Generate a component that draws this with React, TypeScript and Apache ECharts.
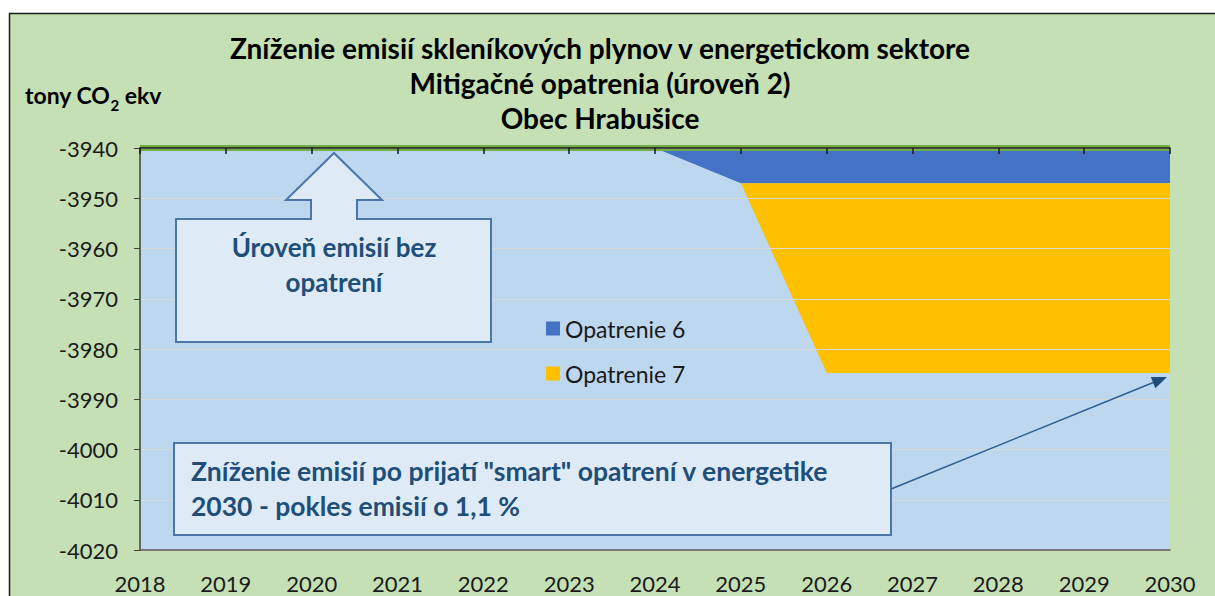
import React, { useEffect, useRef } from "react";
import * as echarts from "echarts";

const years = ["2018", "2019", "2020", "2021", "2022", "2023", "2024", "2025", "2026", "2027", "2028", "2029", "2030"];
const baseline = [-3940, -3940, -3940, -3940, -3940, -3940, -3940, -3940, -3940, -3940, -3940, -3940, -3940];
const opatrenie6 = [0, 0, 0, 0, 0, 0, 0, -7, -7, -7, -7, -7, -7];
const opatrenie7 = [0, 0, 0, 0, 0, 0, 0, 0, -37.8, -37.8, -37.8, -37.8, -37.8];
const titleLines = [
  "Zníženie emisií skleníkových plynov v energetickom sektore",
  "Mitigačné opatrenia (úroveň 2)",
  "Obec Hrabušice",
];
const yMin = -4020;
const yMax = -3940;
const yStep = 10;

const FONT = "Lato, 'Noto Sans', sans-serif";
const BOX_FILL = "#DEEBF7";
const BOX_STROKE = "#4A76A8";
const TEXT_BLUE = "#1F4E79";

function arrowHead(x1: number, y1: number, x2: number, y2: number, len: number, half: number) {
  const dx = x2 - x1;
  const dy = y2 - y1;
  const L = Math.sqrt(dx * dx + dy * dy);
  const ux = dx / L;
  const uy = dy / L;
  const bx = x2 - ux * len;
  const by = y2 - uy * len;
  return [
    [x2, y2],
    [bx - uy * half, by + ux * half],
    [bx + uy * half, by - ux * half],
  ];
}

export default function App() {
  const ref = useRef<HTMLDivElement>(null);
  useEffect(() => {
    document.body.style.margin = "0";
    const chart = echarts.init(ref.current!, null, { renderer: "svg" });
    const ax1 = 891, ay1 = 489, ax2 = 1167, ay2 = 377;
    chart.setOption({
      animation: false,
      backgroundColor: "#ffffff",
      textStyle: { fontFamily: FONT },
      title: {
        text: titleLines.join("\n"),
        left: 595,
        top: 25,
        textAlign: "center",
        textStyle: { fontFamily: FONT, fontSize: 28, fontWeight: "bold", color: "#000", lineHeight: 35 },
      },
      legend: {
        data: ["Opatrenie 6", "Opatrenie 7"],
        orient: "vertical",
        left: 541,
        top: 312,
        itemWidth: 14,
        itemHeight: 14,
        itemGap: 22,
        icon: "rect",
        textStyle: { fontFamily: FONT, fontSize: 23, color: "#1a1a1a" },
      },
      grid: {
        left: 140,
        right: 45,
        top: 148,
        bottom: 46,
        show: true,
        backgroundColor: "#BDD7EE",
        borderWidth: 0,
      },
      xAxis: [
        {
          type: "category",
          data: years,
          boundaryGap: false,
          position: "bottom",
          z: 5,
          axisLine: { show: true, onZero: false, lineStyle: { color: "#595959", width: 1.5 } },
          axisTick: { show: false },
          splitLine: { show: false },
          axisLabel: { margin: 22, fontSize: 22, color: "#1a1a1a", fontFamily: FONT, interval: 0 },
        },
        {
          type: "category",
          data: years,
          boundaryGap: false,
          position: "top",
          z: 5,
          axisLine: { show: true, onZero: false, lineStyle: { color: "#1a1a1a", width: 1.5 } },
          axisTick: { show: true, inside: true, length: 6, interval: 0, lineStyle: { color: "#1a1a1a", width: 1.5 } },
          splitLine: { show: false },
          axisLabel: { show: false },
        },
      ],
      yAxis: {
        type: "value",
        min: yMin,
        max: yMax,
        interval: yStep,
        z: 5,
        axisLine: { show: true, lineStyle: { color: "#404040", width: 1.5 } },
        axisTick: { show: true, inside: false, length: 6, lineStyle: { color: "#404040" } },
        splitLine: { show: true, lineStyle: { color: "#D9D9D9", width: 1 } },
        axisLabel: { margin: 22, fontSize: 22, color: "#1a1a1a", fontFamily: FONT, formatter: (v: number) => String(v) },
      },
      series: [
        {
          name: "Úroveň emisií bez opatrení",
          type: "line",
          stack: "s",
          stackStrategy: "all",
          data: baseline,
          showSymbol: false,
          z: 4,
          lineStyle: { color: "#70AD47", width: 6 },
          itemStyle: { color: "#70AD47" },
        },
        {
          name: "Opatrenie 6",
          type: "line",
          stack: "s",
          stackStrategy: "all",
          data: opatrenie6,
          showSymbol: false,
          lineStyle: { width: 0 },
          itemStyle: { color: "#4472C4" },
          areaStyle: { color: "#4472C4", opacity: 1 },
        },
        {
          name: "Opatrenie 7",
          type: "line",
          stack: "s",
          stackStrategy: "all",
          data: opatrenie7,
          showSymbol: false,
          lineStyle: { width: 0 },
          itemStyle: { color: "#FFC000" },
          areaStyle: { color: "#FFC000", opacity: 1 },
        },
      ],
      graphic: [
        {
          type: "rect",
          z: -10,
          silent: true,
          shape: { x: 9.5, y: 13.5, width: 1220, height: 620 },
          style: { fill: "#C5E0B4", stroke: "#1a1a1a", lineWidth: 1.5 },
        },
        {
          type: "text",
          z: 100,
          left: 25,
          top: 83,
          style: {
            text: "{a|tony CO}{s|2}{a| ekv}",
            rich: {
              a: { fontFamily: FONT, fontSize: 23, fontWeight: "bold", color: "#000", lineHeight: 28, verticalAlign: "bottom" },
              s: { fontFamily: FONT, fontSize: 15, fontWeight: "bold", color: "#000", lineHeight: 15, verticalAlign: "bottom", padding: [0, 0, -6, 0] },
            },
          },
        },
        {
          type: "polygon",
          z: 100,
          shape: {
            points: [
              [176, 219], [311, 219], [311, 200], [286, 200], [334, 153], [382, 200],
              [357, 200], [357, 219], [491, 219], [491, 342], [176, 342],
            ],
          },
          style: { fill: BOX_FILL, stroke: BOX_STROKE, lineWidth: 2 },
        },
        {
          type: "text",
          z: 101,
          x: 334,
          y: 264,
          style: {
            text: "Úroveň emisií bez\nopatrení",
            fontFamily: FONT,
            fontSize: 26,
            fontWeight: "bold",
            lineHeight: 35,
            fill: TEXT_BLUE,
            align: "center",
            verticalAlign: "middle",
          },
        },
        {
          type: "rect",
          z: 100,
          shape: { x: 174, y: 443, width: 717, height: 92 },
          style: { fill: BOX_FILL, stroke: BOX_STROKE, lineWidth: 2 },
        },
        {
          type: "text",
          z: 101,
          x: 191,
          y: 488,
          style: {
            text: 'Zníženie emisií po prijatí "smart" opatrení v energetike\n2030 - pokles emisií o 1,1 %',
            fontFamily: FONT,
            fontSize: 26.5,
            fontWeight: "bold",
            lineHeight: 35,
            fill: TEXT_BLUE,
            align: "left",
            verticalAlign: "middle",
          },
        },
        {
          type: "line",
          z: 100,
          shape: { x1: ax1, y1: ay1, x2: ax2 - 10, y2: ay2 + 4 },
          style: { stroke: "#2E5F8F", lineWidth: 1.5 },
        },
        {
          type: "polygon",
          z: 100,
          shape: { points: arrowHead(ax1, ay1, ax2, ay2, 15, 6) },
          style: { fill: "#1F4E79" },
        },
      ],
    });
    return () => chart.dispose();
  }, []);
  return <div ref={ref} style={{ width: 1215, height: 596 }} />;
}
